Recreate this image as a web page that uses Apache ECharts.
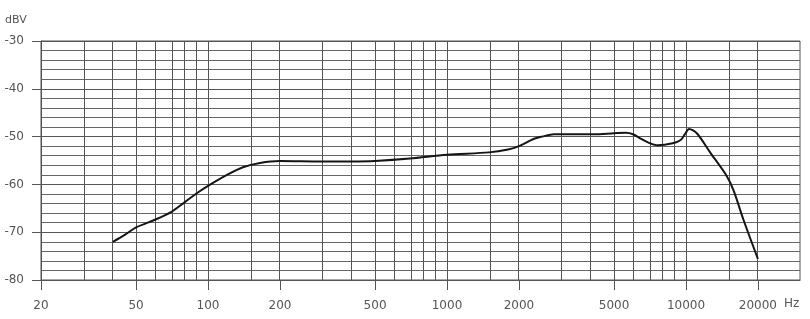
<!DOCTYPE html>
<html>
<head>
<meta charset="utf-8">
<script src="https://cdn.jsdelivr.net/npm/echarts@6/dist/echarts.min.js"></script>
<style>
html,body{margin:0;padding:0;background:#fff;}
#chart{width:810px;height:319px;}
</style>
</head>
<body>
<div id="chart"></div>
<script>
// Data (frequency in Hz, level in dBV)
var freqs = [40, 45, 50, 60, 70, 80, 90, 100, 120, 140, 165, 200, 300, 400, 500, 700, 1000, 1500, 1800, 2000, 2300, 2500, 2800, 3500, 4100, 5000, 5600, 6000, 6500, 7000, 7600, 8800, 9500, 9900, 10300, 11100, 12700, 14700, 15800, 17400, 20000];
var levels = [-72, -70.5, -69, -67.4, -65.8, -63.7, -61.8, -60.3, -58, -56.4, -55.5, -55.1, -55.2, -55.2, -55.1, -54.6, -53.8, -53.3, -52.7, -52.0, -50.5, -50, -49.5, -49.5, -49.5, -49.3, -49.2, -49.5, -50.5, -51.3, -51.8, -51.4, -50.7, -49.5, -48.4, -49.3, -53.5, -58, -61.2, -67.4, -75.6];
var xTickLabels = [20, 50, 100, 200, 500, 1000, 2000, 5000, 10000, 20000];
var xGridFreqs = [30, 40, 50, 60, 70, 80, 90, 100, 150, 200, 300, 400, 500, 600, 700, 800, 900, 1000, 1500, 2000, 3000, 4000, 5000, 6000, 7000, 8000, 9000, 10000, 15000, 20000];
var xMin = 20, xMax = 30000;
var yMin = -80, yMax = -30;

var L = function (v) { return Math.log10(v); };
var font = 'DejaVu Sans';
var chart = echarts.init(document.getElementById('chart'), null, {renderer: 'canvas'});
chart.setOption({
  animation: false,
  backgroundColor: '#fff',
  grid: {left: 41, right: 10, top: 41, bottom: 39, show: true, borderColor: '#555', borderWidth: 1},
  xAxis: {
    type: 'value',
    min: L(xMin), max: L(xMax),
    axisLine: {show: true, lineStyle: {color: '#555', width: 1}},
    splitLine: {show: false},
    axisTick: {show: true, length: 10, inside: false, customValues: xTickLabels.map(L), lineStyle: {color: '#555'}},
    axisLabel: {
      customValues: xTickLabels.map(L),
      margin: 20, color: '#555', fontFamily: font, fontSize: 12,
      formatter: function (v) { return String(Math.round(Math.pow(10, v))); }
    }
  },
  yAxis: {
    type: 'value', min: yMin, max: yMax, interval: 10,
    axisLine: {show: true, lineStyle: {color: '#555'}},
    axisTick: {show: true, length: 9, lineStyle: {color: '#555'}},
    splitLine: {show: true, lineStyle: {color: '#555', width: 1}},
    minorTick: {show: false, splitNumber: 5},
    minorSplitLine: {show: true, lineStyle: {color: '#666', width: 1}},
    axisLabel: {margin: 17, color: '#555', fontFamily: font, fontSize: 12}
  },
  graphic: [
    {type: 'text', left: 5, top: 15, style: {text: 'dBV', fill: '#555', font: '11px ' + font}},
    {type: 'text', left: 784, top: 298, style: {text: 'Hz', fill: '#555', font: '12px ' + font}}
  ],
  series: [
    {
      type: 'line', silent: true, data: [],
      markLine: {
        silent: true, symbol: 'none', animation: false,
        label: {show: false},
        lineStyle: {color: '#555', width: 1, type: 'solid'},
        data: xGridFreqs.map(function (f) { return {xAxis: L(f)}; })
      }
    },
    {
      type: 'line', smooth: 0.3, symbol: 'none',
      lineStyle: {color: '#151515', width: 2},
      data: freqs.map(function (f, i) { return [L(f), levels[i]]; }),
      z: 5
    }
  ]
});
</script>
</body>
</html>
